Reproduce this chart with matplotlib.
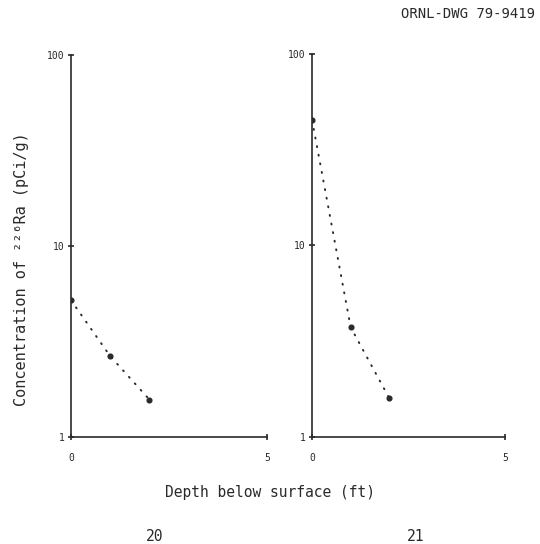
import matplotlib
matplotlib.use("Agg")
import matplotlib.pyplot as plt
from matplotlib.ticker import NullLocator, FixedLocator

# profile data (depth in ft, concentration of 226Ra in pCi/g)
depth_20 = [0, 1, 2]
conc_20 = [5.2, 2.65, 1.57]
depth_21 = [0, 1, 2]
conc_21 = [45, 3.73, 1.59]

x_ticks = [0, 5]
y_ticks = [1, 10, 100]
y_tick_labels = ["1", "10", "100"]

plt.rcParams['font.family'] = ['DejaVu Sans Mono', 'DejaVu Sans']
ink = '#2a2a2a'

fig = plt.figure(figsize=(5.4, 5.44), dpi=100)
ax1 = fig.add_axes([0.1315, 0.1967, 0.363, 0.702])
ax2 = fig.add_axes([0.578, 0.1973, 0.357, 0.7035])

for ax, d, c in [(ax1, depth_20, conc_20), (ax2, depth_21, conc_21)]:
    ax.plot(d, c, linestyle=(0, (0.5, 4.0)), dash_capstyle='round', color=ink,
            linewidth=1.4, marker='o', markersize=3.4)
    ax.set_yscale('log')
    ax.set_xlim(0, 5)
    ax.set_ylim(1, 100)
    ax.spines['top'].set_visible(False)
    ax.spines['right'].set_visible(False)
    for s in ['left', 'bottom']:
        ax.spines[s].set_linewidth(1.2)
        ax.spines[s].set_color(ink)
    ax.yaxis.set_major_locator(FixedLocator(y_ticks))
    ax.yaxis.set_minor_locator(NullLocator())
    ax.set_yticklabels(y_tick_labels)
    ax.set_xticks(x_ticks)
    ax.tick_params(axis='both', direction='inout', length=5, width=1.2, color=ink,
                   labelsize=7, labelcolor=ink)
    ax.tick_params(axis='x', pad=9)
    ax.tick_params(axis='y', pad=2)
    ax.patch.set_alpha(0)

fig.text(0.039, 0.505, "Concentration of ²²⁶Ra (pCi/g)", rotation=90,
         ha='center', va='center', fontsize=11, color=ink)
fig.text(0.5, 0.095, "Depth below surface (ft)", ha='center', va='center',
         fontsize=10.5, color=ink)
fig.text(0.287, 0.013, "20", ha='center', va='center', fontsize=10.5, color=ink)
fig.text(0.769, 0.013, "21", ha='center', va='center', fontsize=10.5, color=ink)
fig.text(0.99, 0.975, "ORNL-DWG 79-9419", ha='right', va='center',
         fontsize=10, color=ink)

fig.savefig("out.png", dpi=100)
